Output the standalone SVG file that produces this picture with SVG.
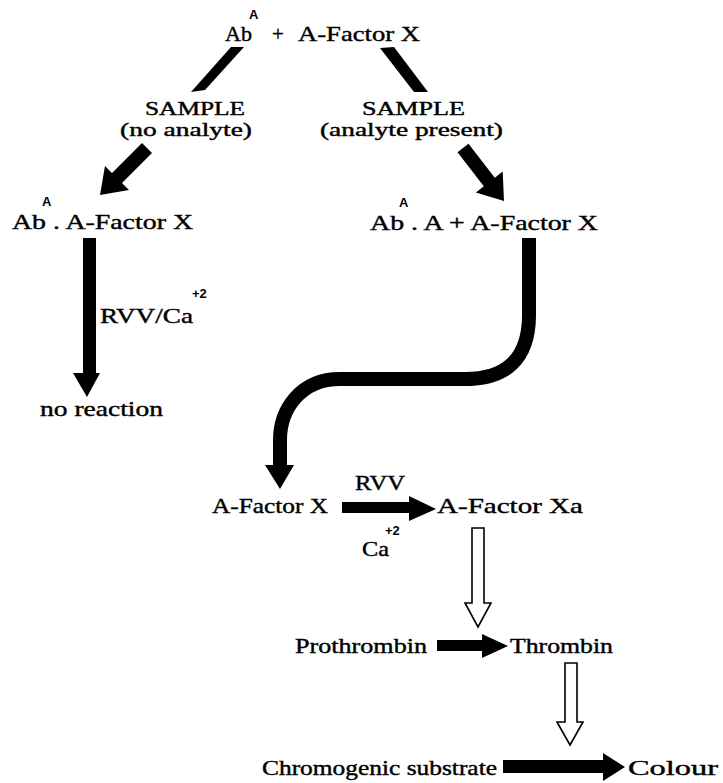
<svg xmlns="http://www.w3.org/2000/svg" width="723" height="783" viewBox="0 0 723 783">
<style>
text{font-family:"Liberation Serif","DejaVu Serif",serif;font-size:21px;fill:#000;stroke:#000;stroke-width:0.4}
.sm{font-size:19px}
.sup{font-family:"Liberation Sans","DejaVu Sans",sans-serif;font-size:13px;font-weight:bold;stroke:none}
.blk{fill:#000;stroke:none}
.hol{fill:#fff;stroke:#000;stroke-width:1.6;stroke-linejoin:miter}
</style>
<rect width="723" height="783" fill="#fff"/>
<g id="start">
<text x="225" y="41" textLength="27" lengthAdjust="spacingAndGlyphs">Ab</text>
<text class="sup" x="249" y="19">A</text>
<text x="272" y="41">+</text>
<text x="298" y="41" textLength="122" lengthAdjust="spacingAndGlyphs">A-Factor X</text>
</g>
<g id="sample-left">
<text class="sm" x="145" y="115" textLength="100" lengthAdjust="spacingAndGlyphs">SAMPLE</text>
<text class="sm" x="120" y="136" textLength="132" lengthAdjust="spacingAndGlyphs">(no analyte)</text>
</g>
<g id="sample-right">
<text class="sm" x="362" y="115" textLength="103" lengthAdjust="spacingAndGlyphs">SAMPLE</text>
<text class="sm" x="320" y="136" textLength="183" lengthAdjust="spacingAndGlyphs">(analyte present)</text>
</g>
<g id="complex-left">
<text x="12" y="229" textLength="181" lengthAdjust="spacingAndGlyphs">Ab . A-Factor X</text>
<text class="sup" x="42" y="206">A</text>
</g>
<g id="complex-right">
<text x="370" y="230" textLength="228" lengthAdjust="spacingAndGlyphs">Ab . A + A-Factor X</text>
<text class="sup" x="399" y="207">A</text>
</g>
<g id="no-reaction">
<text x="40" y="416" textLength="123" lengthAdjust="spacingAndGlyphs">no reaction</text>
</g>
<g id="factor-x">
<text x="212" y="513" textLength="116" lengthAdjust="spacingAndGlyphs">A-Factor X</text>
</g>
<g id="factor-xa">
<text x="437" y="513" textLength="146" lengthAdjust="spacingAndGlyphs">A-Factor Xa</text>
</g>
<g id="prothrombin">
<text x="295" y="653" textLength="132" lengthAdjust="spacingAndGlyphs">Prothrombin</text>
</g>
<g id="thrombin">
<text x="510" y="653" textLength="103" lengthAdjust="spacingAndGlyphs">Thrombin</text>
</g>
<g id="chromogenic">
<text x="262" y="775" textLength="235" lengthAdjust="spacingAndGlyphs">Chromogenic substrate</text>
</g>
<g id="colour">
<text x="628" y="775" textLength="90" lengthAdjust="spacingAndGlyphs">Colour</text>
</g>
<g id="connectors">
<polygon class="blk" points="231,47 244,47 205,90 191,92"/>
<polygon class="blk" points="380,48 394,47 428,92 414,92"/>
<polygon class="blk" points="152,153 122,183 129,190 100,195 105,166 112,173 142,143"/>
<polygon class="blk" points="457.5,152.3 483.8,186.3 475.9,192.4 504,201 502.7,171.6 494.8,177.7 468.5,143.7"/>
<polygon class="blk" points="83,238 96,238 96,373 100,373 87,397 73,373 83,373"/>
<text x="100" y="323" textLength="93" lengthAdjust="spacingAndGlyphs">RVV/Ca</text>
<text class="sup" x="192" y="298">+2</text>
<path d="M529,238 L529,315 C529,360 505,379 465,379 L340,379 C300,379 280,410 280,440 L280,467" fill="none" stroke="#000" stroke-width="14"/>
<polygon class="blk" points="265,465 294,465 280,489"/>
<polygon class="blk" points="342,502 409,502 409,496 436,509 409,521 409,513 342,513"/>
<text x="355" y="490" textLength="50" lengthAdjust="spacingAndGlyphs">RVV</text>
<text class="sup" x="385" y="535">+2</text>
<text x="362" y="556" textLength="27" lengthAdjust="spacingAndGlyphs">Ca</text>
<polygon class="hol" points="472,528 484,528 484,603 491,603 478,627 465,603 472,603"/>
<polygon class="blk" points="437,640 482,640 482,634 508,646 482,658 482,651 437,651"/>
<polygon class="hol" points="565,663 577,663 577,722 583,722 570,745 557,722 565,722"/>
<polygon class="blk" points="503,760 603,760 603,753 625,767 603,781 603,773 503,773"/>
</g>
</svg>
